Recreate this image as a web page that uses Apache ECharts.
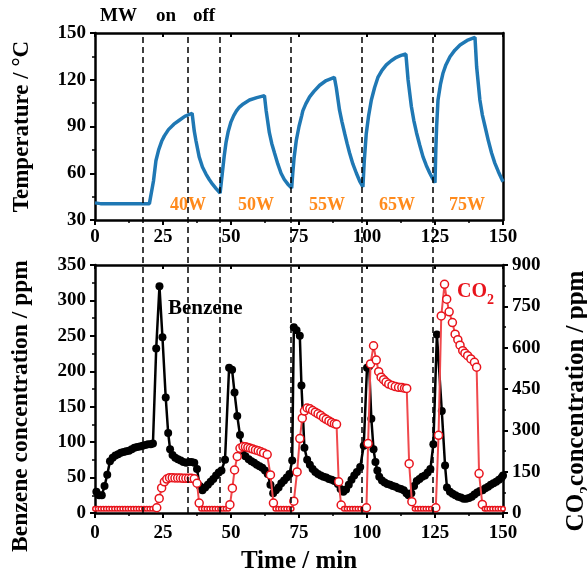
<!DOCTYPE html>
<html><head><meta charset="utf-8">
<script src="https://cdn.jsdelivr.net/npm/echarts@6/dist/echarts.min.js"></script>
<style>html,body{margin:0;padding:0;background:#fff}#c{width:587px;height:576px}</style>
</head><body><div id="c"></div><script>
// ---------- data ----------
const xTicks = [0, 25, 50, 75, 100, 125, 150];
const tempTicks = [30, 60, 90, 120, 150];
const benzeneTicks = [0, 50, 100, 150, 200, 250, 300, 350];
const co2Ticks = [0, 150, 300, 450, 600, 750, 900];
const switchTimes = [17.7, 34.2, 46, 72, 98, 124];
const powerLabels = ['40W', '50W', '55W', '65W', '75W'];

const temperature = [
[0,41],[2,40.5],[4,40.5],[6,40.5],[8,40.5],[10,40.5],[12,40.5],[14,40.5],[16,40.5],[18,40.5],[20,40.5],[20.6,40.5],
[21.5,55],[22.4,68],[23.4,75],[24.5,80.5],[25.5,84],[27,88],[29,91.5],[31,94],[33,96.5],[35.7,98.5],
[36.5,87],[37.1,81],[38.3,70.5],[39.5,64],[40.8,59.5],[42,56],[43.2,53],[44.6,50],[46,47.3],
[46.8,60],[47.5,71],[48.2,80],[49,87],[50,93],[51,97],[52,100],[53.1,102.5],[54.5,104.5],[56.8,107],[59.5,108.5],[62.3,109.8],
[62.9,100.5],[64.1,86],[65,79],[66,73],[67.2,66],[68.4,60],[69.6,56],[70.9,53],[72.3,50.5],
[72.7,60],[73.2,70],[74,81],[75,90],[76,97],[76.4,100],[77.5,104.5],[78.9,109],[80.5,112.5],[82.6,116.5],[85,119.5],[88,121.5],
[88.7,115],[89.9,100.5],[90.8,93],[91.8,85.5],[92.7,79],[93.6,73],[94.8,66],[96.1,60],[97.3,55],[98.5,51.2],
[99,68],[99.7,85],[100.6,97],[101.6,107],[102.8,115],[104,121.5],[105.5,126],[107.1,129.5],[108.9,132.2],[110.8,134.4],[112.5,135.6],[114.3,136.5],
[115.1,120],[116.3,103],[117.2,94],[118.2,86],[119.4,78],[120.6,70.5],[121.8,65],[123.1,60],[124,57],[125,54],
[125.3,75],[125.6,90],[126.1,107],[127,117],[127.9,124],[129,129.5],[130.5,134.8],[132.3,139],[134.2,142.3],[136.8,145.2],[139.7,147.2],
[140.3,128.5],[141.5,107],[142.4,97.5],[143.4,90],[144.6,81],[145.8,73],[147,66.5],[148.3,61],[150,54.6]
];

const benzene = [
[0.5,30],[1.5,25],[2.5,25],[3.5,38],[4.5,54],[5.5,73],[6.5,78],[7.5,81],[8.5,83],[9.5,85],[10.5,86],[11.5,87],[12.5,88],[13.5,90],[14.5,92],[15.5,93],[16.5,94],[17.5,95],[18.5,96],[19.5,97],[20.5,97],[21.3,98],
[22.5,232],[23.7,320],[24.8,248],[26,163],[26.9,113],[27.6,90],[28.5,82],[29.5,78],[30.5,76],[31.5,74],[32.5,72],[33.5,71],[34.5,72],[35.5,72],[36.5,71],[37.5,62],[38.5,38],[39.5,32],
[40.5,36],[41.5,40],[42.5,44],[43.5,48],[44.5,53],[45.5,57],[46.5,60],[47.8,75],[49.3,205],[50.4,202],[51.3,170],[52.3,137],[53.3,110],[54.3,88],[55.3,80],[56.5,76],[57.5,73],[58.5,71],[59.5,68],[60.5,66],[61.5,64],[62.5,60],[63.5,55],[64.5,40],[65.5,28],
[66.5,32],[67.5,36],[68.5,42],[69.5,46],[70.5,50],[71.5,55],[72.5,74],[73.1,262],[74.1,258],[75.3,250],[75.9,180],[77,92],[78,75],[79,68],[80,62],[81,58],[82,55],[83,53],[84,51],[85,50],[86,48],[87,47],[88,45],[89.3,41],[90.3,34],[91.3,30],
[92.3,33],[93.3,40],[94.3,47],[95.3,53],[96.3,58],[97.5,65],[98.8,95],[100,205],[100.8,207],[101.6,133],[102.4,90],[103.1,72],[103.8,60],[104.5,51],[105.5,46],[106.5,43],[107.5,41],[108.5,40],[109.5,38],[110.5,37],[111.5,35],[112.5,34],[113.5,32],[114.5,28],[115.3,25],
[116.3,28],[117.3,38],[118.3,45],[119.3,48],[120.3,51],[121.3,53],[122.3,57],[123.3,62],[124.4,97],[125.7,252],[127.5,144],[128.7,67],[129.4,36],[130.5,30],[131.5,27],[132.5,25],[133.5,23],[134.5,22],[135.5,20],[136.5,20],[137.5,21],[138.5,23],[139.5,26],
[140.5,29],[141.5,31],[142.5,32],[143.5,35],[144.5,37],[145.5,40],[146.5,42],[147.5,44],[148.5,47],[149.5,50],[150,53]
];

const co2 = [
[0,15],[1,15],[2,15],[3,15],[4,15],[5,15],[6,15],[7,15],[8,15],[9,15],[10,15],[11,15],[12,15],[13,15],[14,15],[15,15],[16,15],[17,15],[18,15],[19,15],[20,15],[21,15],[22,15],
[22.7,19],[23.6,53],[24.5,91],[25.5,113],[26.4,123],[27.4,128],[28.4,128],[29.4,127],[30.4,127],[31.4,127],[32.4,126],[33.4,126],[34.4,126],[35.4,126],[36.5,124],[37.5,108],[38.3,36],
[39,15],[40,15],[41,15],[42,15],[43,15],[44,15],[45,15],[46,15],[47,15],[48,15],[49,15],
[49.6,30],[50.5,90],[51.3,156],[52.3,205],[53.3,235],[54.4,241],[55.3,240],[56.2,238],[57.1,235],[58,232],[59,229],[60,226],[61,222],[62,218],[63.3,212],[64.5,138],[65.6,36],
[66.3,15],[67.3,15],[68.3,15],[69.3,15],[70.3,15],[71.3,15],[72.3,15],
[73.1,43],[74.3,149],[75.3,270],[76.2,344],[77,370],[78,381],[79,378],[80,372],[81,366],[82,360],[83,354],[84,346],[85,340],[86,334],[87,328],[88,324],[88.8,322],[89.6,113],[90.5,29],
[91.5,15],[92.5,15],[93.5,15],[94.5,15],[95.5,15],[96.5,15],[97.5,15],[98.5,15],[99.2,15],
[99.8,19],[100.4,252],[101.3,541],[102.4,607],[103.4,555],[104.3,513],[105.2,493],[106.1,484],[107,475],[108,468],[109.2,463],[110.4,459],[111.6,456],[112.8,455],[113.8,453],[114.6,452],[115.5,179],[116.5,41],
[117.5,15],[118.5,15],[119.5,15],[120.5,15],[121.5,15],[122.5,15],[123.5,15],[124.5,15],
[125.3,19],[126.3,282],[127.3,715],[128.5,830],[129.3,776],[130.2,730],[131.4,691],[132.4,649],[133.4,629],[134.2,609],[135.2,589],[136,580],[137,571],[138.2,559],[139.5,547],[140.3,529],[141.2,143],[142.4,31],
[143.2,15],[144,15],[145,15],[146,15],[147,15],[148,15],[149,15],[150,15]
];

// ---------- chart ----------
const F = 'Liberation Serif';
const lbl = {fontFamily: F, fontWeight: 'bold', fontSize: 19, color: '#000'};
const axLine = {show: true, onZero: false, lineStyle: {color: '#000', width: 2.5}};
const tickOut = {show: true, inside: false, length: 5, lineStyle: {color: '#000', width: 2}};
const tickIn = {show: true, inside: true, length: 4, lineStyle: {color: '#000', width: 2}};
const minorOut = {show: true, splitNumber: 2, length: 3, lineStyle: {color: '#000', width: 1.5}};
const nameStyle = (size, pad) => ({fontFamily: F, fontWeight: 'bold', fontSize: size, color: '#000', padding: pad || 0});

function xMain(grid, margin, extra) {
  return Object.assign({
    gridIndex: grid, type: 'value', min: 0, max: 150, interval: 25, position: 'bottom',
    axisLine: axLine, axisTick: tickOut, minorTick: minorOut, splitLine: {show: false},
    axisLabel: Object.assign({}, lbl, {margin: margin, customValues: xTicks})
  }, extra || {});
}
function xTop(grid) {
  return {gridIndex: grid, type: 'value', min: 0, max: 150, interval: 25, position: 'top',
    axisLine: axLine, axisTick: tickIn, axisLabel: {show: false}, splitLine: {show: false}};
}

const gridBase = {left: 95, right: 84, containLabel: false, outerBoundsMode: 'none'};
const option = {
  animation: false,
  backgroundColor: '#fff',
  grid: [
    Object.assign({top: 33, height: 187}, gridBase),
    Object.assign({top: 265, height: 248}, gridBase),
    Object.assign({top: 33, height: 480}, gridBase)
  ],
  xAxis: [
    xMain(0, 8),
    xTop(0),
    xMain(1, 11, {name: 'Time / min', nameLocation: 'middle', nameGap: 36, nameTextStyle: nameStyle(25)}),
    xTop(1),
    {gridIndex: 2, type: 'value', min: 0, max: 150, show: false}
  ],
  yAxis: [
    {gridIndex: 0, type: 'value', min: 30, max: 150, interval: 30, position: 'left',
     name: 'Temperature / °C', nameLocation: 'middle', nameGap: 61, nameTextStyle: nameStyle(23),
     axisLine: axLine, axisTick: tickOut, minorTick: minorOut, splitLine: {show: false},
     axisLabel: Object.assign({}, lbl, {margin: 9, customValues: tempTicks})},
    {gridIndex: 0, type: 'value', min: 30, max: 150, interval: 30, position: 'right',
     axisLine: axLine, axisTick: {show: false}, axisLabel: {show: false}, splitLine: {show: false}},
    {gridIndex: 1, type: 'value', min: 0, max: 350, interval: 50, position: 'left',
     name: 'Benzene concentration / ppm', nameLocation: 'middle', nameGap: 62, nameTextStyle: nameStyle(23.5, [0, 34, 0, 0]),
     axisLine: axLine, axisTick: tickOut, minorTick: minorOut, splitLine: {show: false},
     axisLabel: Object.assign({}, lbl, {margin: 9, customValues: benzeneTicks})},
    {gridIndex: 1, type: 'value', min: 0, max: 900, interval: 150, position: 'right',
     name: '{a|CO}{s|2}{a|concentration / ppm}', nameLocation: 'middle', nameGap: 58,
     nameTextStyle: {padding: [0, 24, 0, 0], rich: {
       a: {fontFamily: F, fontWeight: 'bold', fontSize: 25, color: '#000', verticalAlign: 'bottom', lineHeight: 28},
       s: {fontFamily: F, fontWeight: 'bold', fontSize: 16, color: '#000', verticalAlign: 'bottom', lineHeight: 28, padding: [0, 0, -6, 0]}
     }},
     axisLine: axLine, axisTick: tickOut, minorTick: minorOut, splitLine: {show: false},
     axisLabel: Object.assign({}, lbl, {margin: 9, customValues: co2Ticks})},
    {gridIndex: 2, type: 'value', min: 0, max: 1, show: false}
  ],
  series: [
    {type: 'line', xAxisIndex: 4, yAxisIndex: 4, data: [[0, 0]], symbol: 'none', lineStyle: {opacity: 0}, silent: true, z: 1,
     markLine: {silent: true, symbol: 'none', label: {show: false}, animation: false,
       lineStyle: {color: '#000', width: 1.5, type: [6, 4]},
       data: switchTimes.map(t => ({xAxis: t}))}},
    {name: 'Temperature', type: 'line', xAxisIndex: 0, yAxisIndex: 0, data: temperature, showSymbol: false,
     lineStyle: {color: '#1f78b4', width: 3.5}, z: 3},
    {name: 'Benzene', type: 'line', xAxisIndex: 2, yAxisIndex: 2, data: benzene, symbol: 'circle', symbolSize: 8,
     itemStyle: {color: '#000'}, lineStyle: {color: '#000', width: 2.5}, z: 3},
    {name: 'CO2', type: 'line', xAxisIndex: 2, yAxisIndex: 3, data: co2, symbol: 'circle',
     symbolSize: v => (v[1] <= 15 ? 4.5 : 8),
     itemStyle: {color: '#fff', borderColor: '#e8141c', borderWidth: 1.5},
     lineStyle: {color: '#f0484c', width: 2}, z: 4}
  ],
  graphic: [
    {type: 'text', left: 100, top: 7, style: {text: 'MW', font: 'bold 19px "Liberation Serif"', fill: '#000'}},
    {type: 'text', left: 156, top: 7, style: {text: 'on', font: 'bold 19px "Liberation Serif"', fill: '#000'}},
    {type: 'text', left: 193, top: 7, style: {text: 'off', font: 'bold 19px "Liberation Serif"', fill: '#000'}},
    {type: 'text', left: 170, top: 196, style: {text: powerLabels[0], font: 'bold 18px "Liberation Serif"', fill: '#ff8a1c'}},
    {type: 'text', left: 238, top: 196, style: {text: powerLabels[1], font: 'bold 18px "Liberation Serif"', fill: '#ff8a1c'}},
    {type: 'text', left: 309, top: 196, style: {text: powerLabels[2], font: 'bold 18px "Liberation Serif"', fill: '#ff8a1c'}},
    {type: 'text', left: 379, top: 196, style: {text: powerLabels[3], font: 'bold 18px "Liberation Serif"', fill: '#ff8a1c'}},
    {type: 'text', left: 449, top: 196, style: {text: powerLabels[4], font: 'bold 18px "Liberation Serif"', fill: '#ff8a1c'}},
    {type: 'text', left: 168, top: 298, z: 10, style: {text: 'Benzene', font: 'bold 21px "Liberation Serif"', fill: '#000'}},
    {type: 'text', left: 457, top: 282, z: 10, style: {
      text: '{a|CO}{s|2}', rich: {
        a: {font: 'bold 20px "Liberation Serif"', fill: '#e8141c', verticalAlign: 'bottom', lineHeight: 24},
        s: {font: 'bold 14px "Liberation Serif"', fill: '#e8141c', verticalAlign: 'bottom', lineHeight: 24, padding: [0, 0, -5, 0]}
      }}}
  ]
};
const chart = echarts.init(document.getElementById('c'), null, {renderer: 'canvas'});
chart.setOption(option);
</script></body></html>
